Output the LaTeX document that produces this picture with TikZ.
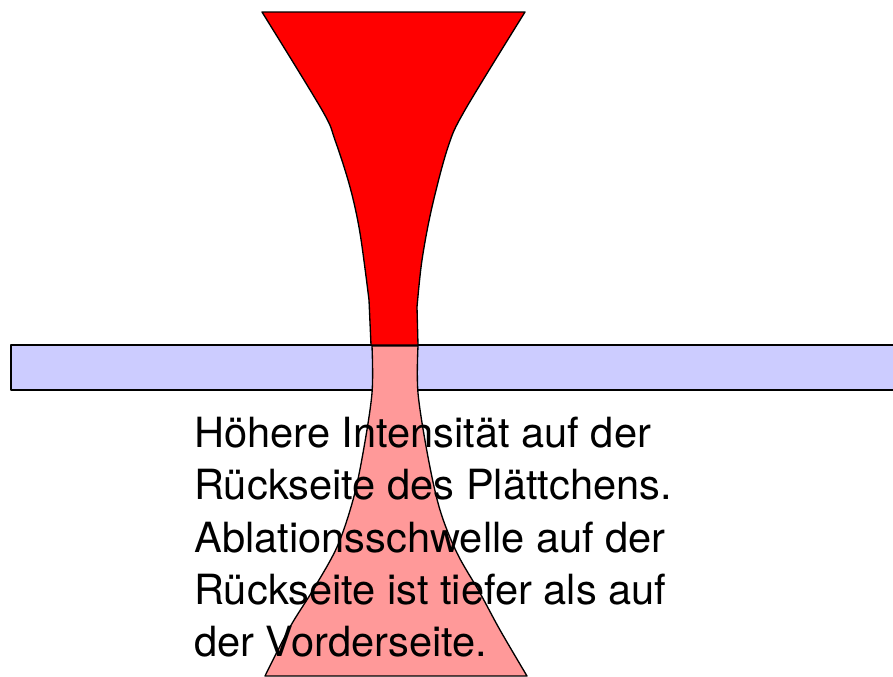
\documentclass[tikz,border=0pt]{standalone}
\usepackage{fontspec}
\setmainfont{TeX Gyre Heros}
\begin{document}
\begin{tikzpicture}[x=0.75pt,y=-0.75pt,
  outl/.style={draw=black,line width=1pt,line join=round},
  txt/.style={anchor=base west,inner sep=0pt,font=\fontsize{31.2}{36}\selectfont}]
\useasboundingbox (0,0) rectangle (893,676);
% plate
\path[outl,fill={rgb,255:red,204;green,204;blue,255}] (11,345) rectangle (896,390);
% red beam above
\path[outl,fill={rgb,255:red,255;green,0;blue,0}]
  (262,12) -- (525,12)
  -- plot[smooth,tension=0.55] coordinates {(525,12) (465,110) (448,147) (432,207) (422,260) (417,307)}
  -- (418,345) -- (371,345) -- (369,300)
  -- plot[smooth,tension=0.55] coordinates {(369,300) (360,233) (350,187) (335,140) (322,110) (262,12)}
  -- cycle;
% pink beam below
\path[outl,fill={rgb,255:red,255;green,153;blue,153}]
  (372,346) -- (418,346)
  -- plot[smooth,tension=0.55] coordinates {(418,346) (418,393) (428,457) (440,510) (457,553) (480,593) (500,630) (527,676)}
  -- (265,676)
  -- plot[smooth,tension=0.55] coordinates {(265,676) (290,627) (313,590) (337,547) (353,500) (363,453) (372,393) (372,346)}
  -- cycle;
% text
\node[txt] (l1) at (194,447) {Höhere Intensität auf der};
\node[txt] (l2) at (194,499) {Rückseite des Plättchens.};
\node[txt] (l3) at (194,552) {Ablationsschwelle auf der};
\node[txt] (l4) at (194,604) {Rückseite ist tiefer als auf};
\node[txt] (l5) at (194,656) {der Vorderseite.};
\end{tikzpicture}
\end{document}
